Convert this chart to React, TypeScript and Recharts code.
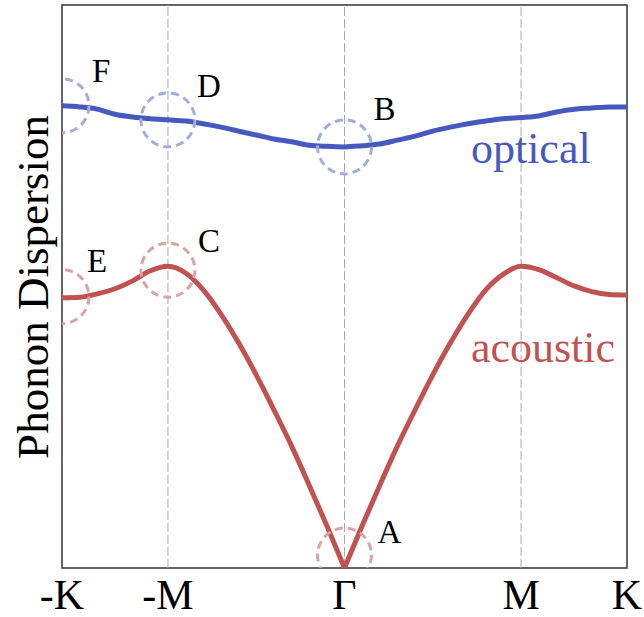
import React from 'react';
import { LineChart, Line, XAxis, YAxis, ReferenceLine, ReferenceDot, ReferenceArea } from 'recharts';

// wave vector positions along -K -> -M -> Γ -> M -> K
const qPoints = [-1.6, -1.5, -1.4, -1.3, -1.2, -1.1, -1.0, -0.9, -0.8, -0.7, -0.6, -0.5, -0.4, -0.3, -0.2, -0.1, 0,
  0.1, 0.2, 0.3, 0.4, 0.5, 0.6, 0.7, 0.8, 0.9, 1.0, 1.1, 1.2, 1.3, 1.4, 1.5, 1.6];
const acoustic = [4.80, 4.81, 4.87, 4.96, 5.10, 5.28, 5.36, 5.24, 4.94, 4.51, 4.00, 3.43, 2.81, 2.17, 1.47, 0.75, 0,
  0.75, 1.47, 2.17, 2.81, 3.43, 4.00, 4.51, 4.94, 5.22, 5.36, 5.30, 5.16, 5.01, 4.91, 4.86, 4.85];
const optical = [8.21, 8.19, 8.15, 8.06, 8.01, 7.98, 7.96, 7.94, 7.89, 7.83, 7.76, 7.69, 7.62, 7.57, 7.51, 7.49, 7.48,
  7.50, 7.53, 7.60, 7.67, 7.76, 7.83, 7.89, 7.94, 7.98, 8.00, 8.03, 8.10, 8.15, 8.17, 8.19, 8.19];

const tickValues = [-1.6, -1, 0, 1, 1.6];
const tickLabels = ['-K', '-M', 'Γ', 'M', 'K'];
const highSymLines = [-1, 0, 1];

const markerLabels = ['A', 'B', 'C', 'D', 'E', 'F'];
const markerQ = [0, 0, -1, -1, -1.6, -1.6];
const markerE = [0.23, 7.48, 5.29, 7.96, 4.82, 8.21];
const markerBranch = ['acoustic', 'optical', 'acoustic', 'optical', 'acoustic', 'optical'];

const branchNames = ['optical', 'acoustic'];
const branchNameQ = [0.716, 0.716];
const branchNameE = [7.19, 3.66];

// styles
const FONT = "'Liberation Serif', 'Times New Roman', Times, serif";
const BLUE = '#4659BE';
const RED = '#C05252';
const BLUE_LIGHT = '#A2ACDD';
const RED_LIGHT = '#DDA3A3';
const labelOffsets = [[33, -12], [29, -27], [30, -18], [29, -23], [25, -25], [30, -24]];

const data = qPoints.map((q, i) => ({
  q,
  acousticL: q <= 0 ? acoustic[i] : null,
  acousticR: q >= 0 ? acoustic[i] : null,
  optical: optical[i],
}));

const XTick = (props: any) => {
  const { x, y, payload } = props;
  const idx = tickValues.indexOf(payload.value);
  return (
    <text x={x} y={y + 33} textAnchor="middle" fontFamily={FONT} style={{ fontFamily: FONT }} fontSize={42} fill="#000">
      {tickLabels[idx]}
    </text>
  );
};

export default function App() {
  return (
    <div style={{ position: 'absolute', left: 0, top: 0, width: 644, height: 617, background: '#fff', fontFamily: FONT }}>
      <LineChart width={644} height={617} data={data} margin={{ top: 5, right: 17, bottom: 0, left: 62 }} style={{ fontFamily: FONT }}>
        <XAxis
          type="number"
          dataKey="q"
          domain={[-1.6, 1.6]}
          ticks={tickValues}
          tick={<XTick />}
          tickLine={false}
          axisLine={false}
          height={49}
          interval={0}
          allowDataOverflow
        />
        <YAxis hide width={0} domain={[0, 10]} type="number" allowDataOverflow />
        {highSymLines.map((q) => (
          <ReferenceLine key={q} x={q} stroke="#aaa" strokeWidth={1} strokeDasharray="9 3" />
        ))}
        {markerLabels.map((m, i) => (
          <ReferenceDot
            key={'c' + m}
            x={markerQ[i]}
            y={markerE[i]}
            r={27}
            fill="none"
            stroke={markerBranch[i] === 'optical' ? BLUE_LIGHT : RED_LIGHT}
            strokeWidth={3}
            strokeDasharray="8 5"
            ifOverflow="hidden"
          />
        ))}
        <Line type="monotone" dataKey="optical" stroke={BLUE} strokeWidth={5} dot={false} isAnimationActive={false} />
        <Line type="monotone" dataKey="acousticL" stroke={RED} strokeWidth={5} dot={false} isAnimationActive={false} />
        <Line type="monotone" dataKey="acousticR" stroke={RED} strokeWidth={5} dot={false} isAnimationActive={false} />
        {markerLabels.map((m, i) => (
          <ReferenceDot
            key={'t' + m}
            x={markerQ[i]}
            y={markerE[i]}
            r={0}
            ifOverflow="visible"
            shape={(p: any) => (
              <text x={p.cx + labelOffsets[i][0]} y={p.cy + labelOffsets[i][1]} fontFamily={FONT} style={{ fontFamily: FONT }} fontSize={33} fill="#000">
                {m}
              </text>
            )}
          />
        ))}
        {branchNames.map((b, i) => (
          <ReferenceDot
            key={'b' + b}
            x={branchNameQ[i]}
            y={branchNameE[i]}
            r={0}
            ifOverflow="visible"
            shape={(p: any) => (
              <text x={p.cx} y={p.cy} fontFamily={FONT} style={{ fontFamily: FONT }} fontSize={44} fill={i === 0 ? BLUE : RED}>
                {b}
              </text>
            )}
          />
        ))}
        <ReferenceArea x1={-1.6} x2={1.6} y1={0} y2={10} fill="none" stroke="#333" strokeWidth={1.5} ifOverflow="visible" />
      </LineChart>
      <svg width={644} height={617} style={{ position: 'absolute', left: 0, top: 0, pointerEvents: 'none' }}>
        <text
          x={48}
          y={287}
          transform="rotate(-90, 48, 287)"
          textAnchor="middle"
          fontFamily={FONT}
          style={{ fontFamily: FONT }}
          fontSize={45}
          fill="#000"
        >
          Phonon Dispersion
        </text>
      </svg>
    </div>
  );
}
